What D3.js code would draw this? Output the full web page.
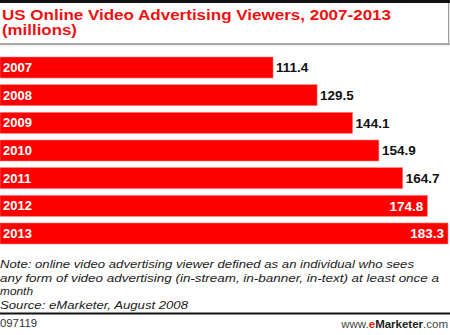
<!DOCTYPE html>
<html>
<head>
<meta charset="utf-8">
<script src="https://cdn.jsdelivr.net/npm/d3@7"></script>
<style>
  html, body { margin: 0; padding: 0; background: #fff; }
  svg { display: block; }
  text { font-family: "Liberation Sans", Arial, sans-serif; }
</style>
</head>
<body>
<div id="chart"></div>
<script>
// US online video advertising viewers, millions
const years = ["2007", "2008", "2009", "2010", "2011", "2012", "2013"];
const viewers = [111.4, 129.5, 144.1, 154.9, 164.7, 174.8, 183.3];

const titleLines = ["US Online Video Advertising Viewers, 2007-2013", "(millions)"];
const noteLines = [
  "Note: online video advertising viewer defined as an individual who sees",
  "any form of video advertising (in-stream, in-banner, in-text) at least once a",
  "month",
  "Source: eMarketer, August 2008"
];
const chartId = "097119";

const W = 450, H = 335;
const svg = d3.select("#chart").append("svg")
  .attr("width", W).attr("height", H);

const data = years.map((y, i) => ({ year: y, value: viewers[i] }));

// frame: top band, right rule, title rule
svg.append("rect").attr("x", 0).attr("y", 0).attr("width", W).attr("height", 3).attr("fill", "#111");
svg.append("rect").attr("x", 448).attr("y", 3).attr("width", 1.2).attr("height", 40).attr("fill", "#999");
svg.append("rect").attr("x", 0).attr("y", 43).attr("width", W).attr("height", 2.2).attr("fill", "#a8a8a8");

// title
const titleG = svg.append("g").attr("fill", "#ee1111")
  .attr("font-weight", "bold").attr("font-size", 14);
titleG.append("text").attr("x", 2).attr("y", 19.5)
  .attr("textLength", 389).attr("lengthAdjust", "spacingAndGlyphs").text(titleLines[0]);
titleG.append("text").attr("x", 2).attr("y", 35)
  .attr("textLength", 75).attr("lengthAdjust", "spacingAndGlyphs").text(titleLines[1]);

// scales
const x = d3.scaleLinear().domain([0, 183.3]).range([2, 448]);
const y = d3.scaleBand().domain(years).range([57, 244]).paddingInner(0.24).paddingOuter(0);

// bars
const rows = svg.append("g").selectAll("g").data(data).join("g");
rows.append("rect")
  .attr("x", 0)
  .attr("y", d => y(d.year))
  .attr("width", d => x(d.value))
  .attr("height", y.bandwidth())
  .attr("fill", "#ff0000")
  .attr("stroke", "#ff8080").attr("stroke-width", 0.6);

// year labels inside bars
rows.append("text")
  .attr("x", 3)
  .attr("y", d => y(d.year) + y.bandwidth() / 2 + 4.6)
  .attr("fill", "#fff").attr("font-weight", "bold").attr("font-size", 13)
  .text(d => d.year);

// value labels: outside for short bars, inside for the longest
const inside = d => d.value > 170;
rows.append("text")
  .attr("x", d => inside(d) ? x(d.value) - 4 : x(d.value) + 3)
  .attr("y", d => y(d.year) + y.bandwidth() / 2 + 4.8)
  .attr("text-anchor", d => inside(d) ? "end" : "start")
  .attr("fill", d => inside(d) ? "#fff" : "#111")
  .attr("font-weight", "bold").attr("font-size", 13.5)
  .text(d => d3.format(".1f")(d.value));

// notes
const noteWidths = [414, 439, 33, 188];
const noteG = svg.append("g").attr("fill", "#222").attr("font-style", "italic").attr("font-size", 11.5);
noteLines.forEach((t, i) => {
  noteG.append("text").attr("x", 0).attr("y", 268 + i * 13.7)
    .attr("textLength", noteWidths[i]).attr("lengthAdjust", "spacingAndGlyphs").text(t);
});

// footer
svg.append("rect").attr("x", 0).attr("y", 312.5).attr("width", W).attr("height", 2).attr("fill", "#111");
svg.append("text").attr("x", 0).attr("y", 327).attr("fill", "#333").attr("font-size", 10.5)
  .attr("textLength", 37).attr("lengthAdjust", "spacingAndGlyphs").text(chartId);
const brand = svg.append("text").attr("x", 448).attr("y", 327.5)
  .attr("text-anchor", "end").attr("font-size", 11.5).attr("fill", "#444");
brand.append("tspan").text("www.");
brand.append("tspan").attr("fill", "#ee1111").attr("font-weight", "bold").text("e");
brand.append("tspan").attr("fill", "#222").attr("font-weight", "bold").text("Marketer");
brand.append("tspan").text(".com");
</script>
</body>
</html>
